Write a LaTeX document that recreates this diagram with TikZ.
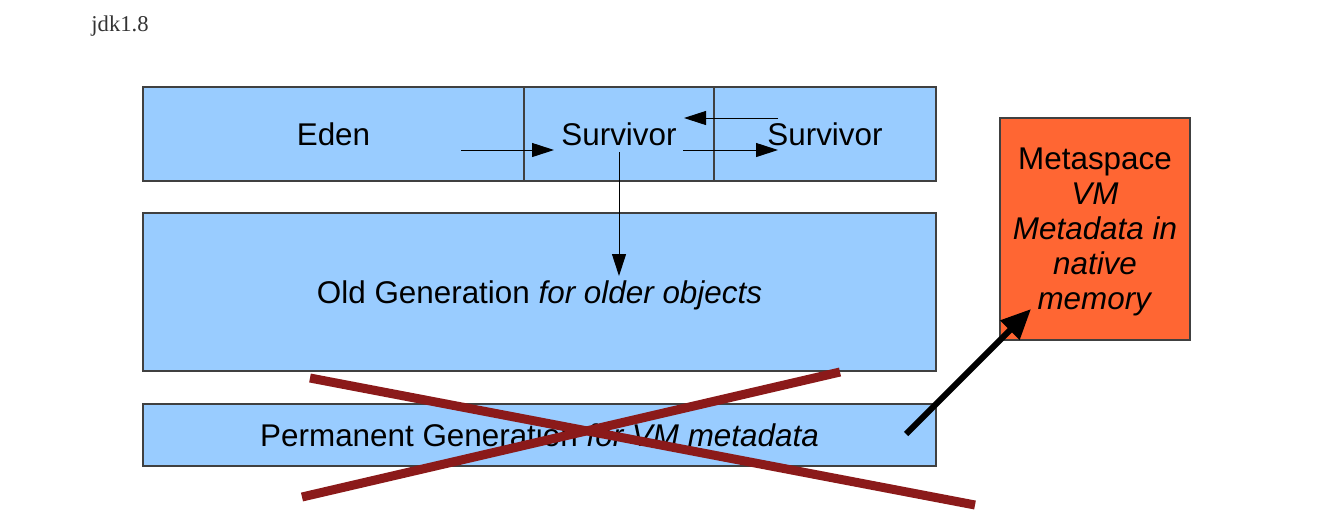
\documentclass[tikz,border=0pt]{standalone}
\usepackage{fontspec}
\setmainfont{Liberation Sans}
\newfontfamily\titlefont{Liberation Serif}
\usetikzlibrary{arrows.meta}
\usetikzlibrary{positioning}
\definecolor{heapblue}{HTML}{99CCFF}
\definecolor{metaorange}{HTML}{FF6633}
\definecolor{crossred}{HTML}{8B1A1A}
\tikzset{
  region/.style={draw=black!75, fill=heapblue, line width=0.6pt, inner sep=0pt, outer sep=0pt,
    anchor=north west, font=\fontsize{15.7}{17.5}\selectfont},
  flow/.style={-{Triangle[length=11pt,width=7pt]}, line width=0.5pt},
  strike/.style={crossred, line width=4.5pt}
}

\begin{document}
\begin{tikzpicture}[x=0.5pt,y=-0.5pt]
    \useasboundingbox (0,0) rectangle (1336,521);

    \node[font=\titlefont\fontsize{11.3}{13}\selectfont, text=black!80] (title) at (120,26) {jdk1.8};

    % young generation
    \node[region, minimum width=190.5pt, minimum height=47pt] (eden) at (143,87) {Eden};
    \node[region, minimum width=95pt, minimum height=47pt] (surv1) at (eden.north east) {Survivor};
    \node[region, minimum width=111pt, minimum height=47pt] (surv2) at (surv1.north east) {Survivor};

    % old and permanent generation
    \node[region, minimum width=396.5pt, minimum height=79pt, text depth=-2pt] (old) at (143,213)
        {Old Generation \textit{for older objects}};
    \node[region, minimum width=396.5pt, minimum height=31pt] (perm) at (143,404)
        {Permanent Generation \textit{for VM metadata}};

    % metaspace
    \node[region, fill=metaorange, minimum width=95pt, minimum height=111pt] (meta) at (1000,118) {};
    \node[align=center, inner sep=0pt, font=\fontsize{15.7}{17.5}\selectfont] (metatext) at (1095,232)
        {Metaspace\\\textit{VM}\\\textit{Metadata in}\\\textit{native}\\\textit{memory}};

    % copying between spaces
    \coordinate (edenout) at (461,150);
    \coordinate (surv1in) at (554,150);
    \coordinate (surv1out) at (683,150);
    \coordinate (surv2in) at (778,150);
    \coordinate (surv2back) at (778,118);
    \coordinate (surv1back) at (684,118);
    \coordinate (promote) at (619,152);
    \coordinate (oldin) at (619,276);
    \draw[flow] (edenout) -- (surv1in);
    \draw[flow] (surv1out) -- (surv2in);
    \draw[flow] (surv2back) -- (surv1back);
    \draw[flow] (promote) -- (oldin);

    % permgen removed
    \draw[strike] (310,378) -- (975,505);
    \draw[strike] (302,497) -- (840,372);

    \coordinate (permout) at (906,434);
    \coordinate (metain) at (1031,309);
    \draw[-{Triangle[length=15pt,width=13pt]}, line width=3pt] (permout) -- (metain);
\end{tikzpicture}
\end{document}
